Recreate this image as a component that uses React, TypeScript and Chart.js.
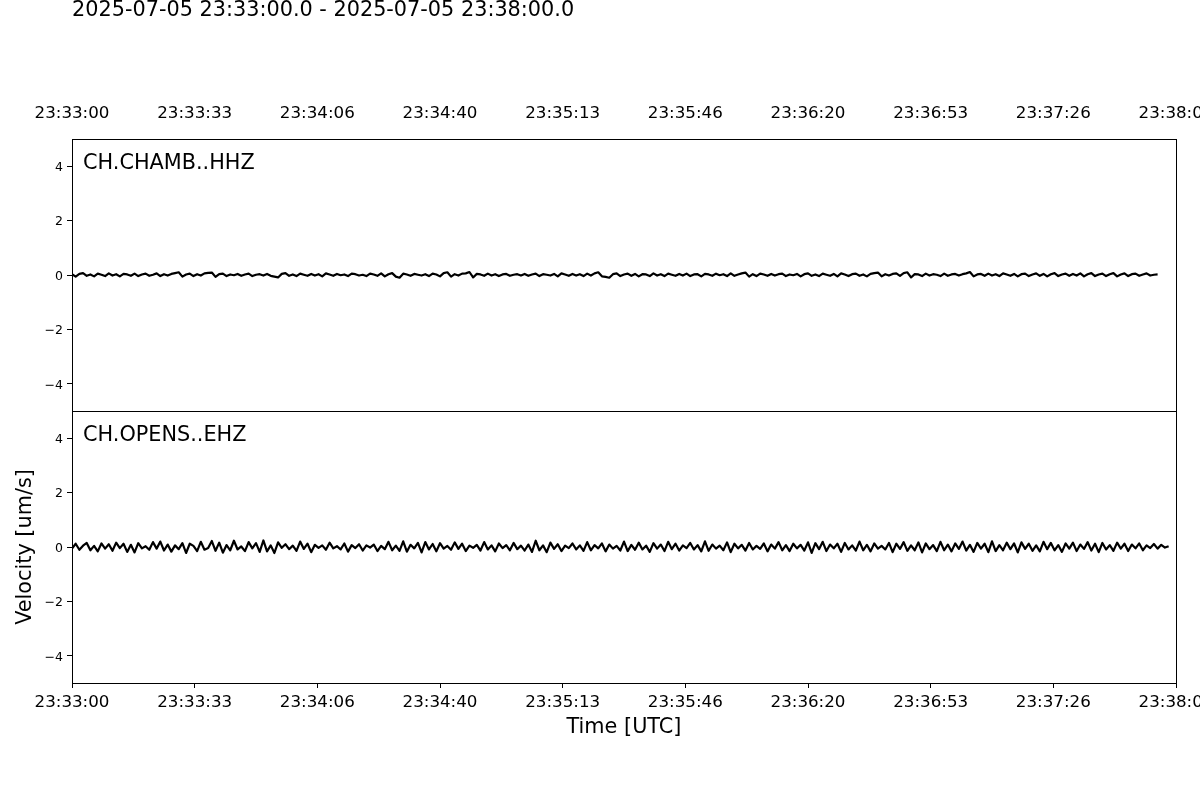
import React, { useEffect, useRef } from 'react';
import { Chart, registerables } from 'chart.js';

Chart.register(...registerables);

const TITLE = '2025-07-05 23:33:00.0 - 2025-07-05 23:38:00.0';
const TRACE_IDS = ['CH.CHAMB..HHZ', 'CH.OPENS..EHZ'];
const X_AXIS_TITLE = 'Time [UTC]';
const Y_AXIS_TITLE = 'Velocity [um/s]';

// seconds after 2025-07-05 23:33:00
const X_TICK_SECONDS = [0, 33.333, 66.667, 100, 133.333, 166.667, 200, 233.333, 266.667, 300];
const X_TICK_LABELS = [
  '23:33:00', '23:33:33', '23:34:06', '23:34:40', '23:35:13',
  '23:35:46', '23:36:20', '23:36:53', '23:37:26', '23:38:00',
];
const Y_TICKS = [-4, -2, 0, 2, 4];
const Y_MIN = -5;
const Y_MAX = 5;
const X_MIN = 0;
const X_MAX = 300;

const SAMPLE_INTERVAL_S = 1.0;

// CH.CHAMB..HHZ velocity samples [um/s]
const CHAMB_VALUES = [
  0.03, -0.06, 0.04, 0.07, -0.03, 0.02, -0.05, 0.05, 0.01, -0.04, 0.06, -0.02, 0.03, -0.05, 0.04, 0.02, -0.03, 0.05, -0.04, 0.02,
  0.05, -0.03, 0.01, 0.06, -0.04, 0.03, -0.02, 0.04, 0.07, 0.10, -0.06, 0.02, 0.05, -0.04, 0.03, -0.02, 0.06, 0.08, 0.09, -0.07,
  0.03, 0.05, -0.04, 0.02, -0.01, 0.04, -0.03, 0.02, 0.05, -0.04, 0.01, 0.03, -0.02, 0.04, -0.03, -0.06, -0.09, 0.04, 0.07, -0.03,
  0.02, -0.04, 0.05, 0.01, -0.03, 0.04, -0.02, 0.03, -0.05, 0.06, 0.02, -0.03, 0.04, -0.01, 0.02, -0.04, 0.05, 0.03, -0.02, 0.01,
  -0.04, 0.05, 0.02, -0.03, 0.06, -0.05, 0.03, 0.07, -0.06, -0.10, 0.05, 0.02, -0.03, 0.04, 0.01, -0.02, 0.03, -0.04, 0.05, 0.02,
  -0.05, 0.07, 0.10, -0.06, 0.03, -0.02, 0.05, 0.06, 0.11, -0.09, 0.04, 0.02, -0.03, 0.05, -0.02, 0.03, -0.04, 0.02, 0.04, -0.03,
  0.01, 0.03, -0.02, 0.04, -0.03, 0.02, 0.05, -0.04, 0.03, 0.01, -0.02, 0.04, -0.05, 0.06, 0.02, -0.03, 0.04, -0.02, 0.03, -0.04,
  0.05, -0.02, 0.06, 0.10, -0.05, -0.07, -0.10, 0.03, 0.06, -0.04, 0.02, 0.05, -0.03, 0.04, -0.05, 0.03, 0.02, -0.04, 0.06, -0.02,
  0.03, -0.04, 0.05, 0.01, -0.03, 0.04, -0.02, 0.05, -0.04, 0.02, 0.03, -0.05, 0.04, 0.02, -0.03, 0.05, -0.01, 0.03, -0.04, 0.06,
  -0.03, 0.02, 0.06, 0.09, -0.06, 0.03, -0.04, 0.05, 0.02, -0.03, 0.04, -0.02, 0.03, 0.05, -0.04, 0.02, -0.01, 0.04, -0.05, 0.03,
  0.06, -0.03, 0.02, -0.04, 0.05, 0.01, -0.03, 0.04, -0.05, 0.06, 0.02, -0.04, 0.03, 0.05, -0.03, 0.02, -0.05, 0.04, 0.07, 0.09,
  -0.05, 0.03, -0.02, 0.04, 0.06, -0.03, 0.07, 0.10, -0.09, 0.03, 0.02, -0.04, 0.05, -0.02, 0.03, 0.01, -0.04, 0.05, -0.03, 0.02,
  0.04, -0.02, 0.03, 0.06, 0.11, -0.05, 0.02, 0.04, -0.03, 0.05, -0.02, 0.03, -0.04, 0.06, 0.02, -0.03, 0.04, -0.05, 0.03, 0.05,
  -0.04, 0.02, 0.06, -0.03, 0.04, -0.05, 0.03, 0.07, -0.04, 0.02, 0.05, -0.03, 0.04, -0.02, 0.06, -0.05, 0.03, 0.07, -0.04, 0.02,
  0.05, -0.04, 0.03, 0.07, -0.05, 0.02, 0.06, -0.04, 0.03, 0.05, -0.03, 0.02, 0.06, -0.02, 0.01, 0.02,
];

// CH.OPENS..EHZ velocity samples [um/s]
const OPENS_VALUES = [
  -0.06, 0.12, -0.10, 0.05, 0.15, -0.12, 0.04, -0.16, 0.13, -0.06, 0.10, -0.14, 0.16, -0.04, 0.12, -0.18, 0.08, -0.20, 0.14, -0.05,
  0.03, -0.10, 0.18, -0.06, 0.20, -0.13, 0.09, -0.17, 0.06, -0.08, 0.14, -0.22, 0.12, 0.04, -0.15, 0.19, -0.10, -0.04, 0.22, -0.14,
  0.16, -0.21, 0.07, -0.12, 0.23, -0.09, 0.02, -0.15, 0.18, -0.05, 0.14, -0.18, 0.24, -0.16, 0.06, -0.22, 0.17, -0.03, 0.10, -0.08,
  0.05, -0.14, 0.20, -0.07, 0.12, -0.19, 0.08, -0.03, 0.06, -0.10, 0.16, -0.05, 0.03, -0.09, 0.13, -0.17, 0.07, -0.04, 0.10, -0.13,
  0.06, -0.02, 0.09, -0.15, 0.04, -0.08, 0.19, -0.12, 0.05, -0.14, 0.21, -0.17, 0.08, -0.05, 0.15, -0.20, 0.18, -0.09, 0.11, -0.16,
  0.14, -0.06, 0.04, -0.10, 0.17, -0.07, 0.12, -0.15, 0.05, -0.03, 0.08, -0.13, 0.18, -0.09, 0.06, -0.16, 0.13, -0.04, 0.07, -0.12,
  0.15, -0.08, 0.05, -0.13, 0.09, -0.18, 0.23, -0.12, 0.06, -0.19, 0.16, -0.07, 0.10, -0.15, 0.05, -0.04, 0.13, -0.09, 0.06, -0.14,
  0.18, -0.12, 0.07, -0.05, 0.13, -0.16, 0.09, -0.06, 0.04, -0.13, 0.20, -0.15, 0.08, -0.10, 0.16, -0.09, 0.05, -0.18, 0.14, -0.06,
  0.09, -0.15, 0.19, -0.08, 0.12, -0.13, 0.06, -0.04, 0.15, -0.09, 0.07, -0.16, 0.21, -0.14, 0.09, -0.06, 0.05, -0.12, 0.17, -0.19,
  0.12, -0.05, 0.08, -0.13, 0.15, -0.09, 0.04, -0.07, 0.13, -0.16, 0.09, -0.06, 0.18, -0.12, 0.07, -0.15, 0.12, -0.05, 0.08, -0.13,
  0.17, -0.22, 0.14, -0.08, 0.19, -0.15, 0.09, -0.05, 0.12, -0.18, 0.15, -0.09, 0.06, -0.13, 0.20, -0.12, 0.08, -0.16, 0.13, -0.06,
  0.04, -0.09, 0.15, -0.19, 0.12, -0.07, 0.18, -0.14, 0.06, -0.12, 0.17, -0.20, 0.13, -0.08, 0.07, -0.15, 0.19, -0.12, 0.09, -0.16,
  0.13, -0.07, 0.20, -0.13, 0.08, -0.18, 0.15, -0.06, 0.12, -0.19, 0.21, -0.15, 0.07, -0.12, 0.16, -0.08, 0.13, -0.20, 0.17, -0.07,
  0.12, -0.14, 0.06, -0.16, 0.19, -0.08, 0.15, -0.12, 0.07, -0.18, 0.13, -0.06, 0.16, -0.15, 0.09, -0.07, 0.18, -0.13, 0.12, -0.19,
  0.15, -0.09, 0.07, -0.14, 0.16, -0.06, 0.12, -0.15, 0.09, -0.05, 0.13, -0.12, 0.06, -0.04, 0.11, -0.06, 0.08, -0.02, 0.03,
];

const FONT = '"DejaVu Sans", sans-serif';

const toPoints = (values: number[]) =>
  values.map((v, i) => ({ x: i * SAMPLE_INTERVAL_S, y: v }));

const fmtY = (v: number) => (v < 0 ? '\u2212' + Math.abs(v) : String(v));

const decorPlugin = {
  id: 'panelDecor',
  afterDraw(chart: any) {
    const { ctx, chartArea } = chart;
    const panels = [chart.scales.yTop, chart.scales.yBottom];
    ctx.save();
    ctx.strokeStyle = '#000';
    ctx.lineWidth = 1;
    const left = Math.round(chartArea.left) + 0.5;
    const w = Math.round(chartArea.right) - Math.round(chartArea.left);
    panels.forEach((s: any, i: number) => {
      const top = Math.round(s.top) + 0.5;
      const h = Math.round(s.bottom) - Math.round(s.top);
      ctx.strokeRect(left, top, w, h);
      ctx.fillStyle = '#000';
      ctx.font = `20.8px ${FONT}`;
      ctx.textAlign = 'left';
      ctx.textBaseline = 'middle';
      ctx.fillText(TRACE_IDS[i], chartArea.left + 11, s.top + 25);
    });
    ctx.font = `20.8px ${FONT}`;
    ctx.textAlign = 'left';
    ctx.textBaseline = 'alphabetic';
    ctx.fillStyle = '#000';
    ctx.fillText(TITLE, chartArea.left, 16);
    ctx.restore();
  },
};

export default function App() {
  const ref = useRef<HTMLCanvasElement | null>(null);

  useEffect(() => {
    if (!ref.current) return;
    const xTicks = (s: any) => {
      s.ticks = X_TICK_SECONDS.map((v) => ({ value: v }));
    };
    const yTicks = (s: any) => {
      s.ticks = Y_TICKS.map((v) => ({ value: v }));
    };
    const yBase = (weight: number) => ({
      type: 'linear',
      position: 'left',
      stack: 'panels',
      stackWeight: 1,
      weight,
      min: Y_MIN,
      max: Y_MAX,
      afterBuildTicks: yTicks,
      afterFit: (s: any) => {
        s.width = 72;
        s.paddingTop = 0;
        s.paddingBottom = 0;
      },
      grid: { drawOnChartArea: false, drawTicks: true, tickLength: 5, color: '#000', lineWidth: 1 },
      border: { display: false },
      ticks: {
        color: '#000',
        padding: 4,
        labelOffset: 1.5,
        font: { family: FONT, size: 12.5 },
        callback: (v: any) => fmtY(Number(v)),
      },
    });

    const chart = new Chart(ref.current, {
      type: 'line',
      data: {
        datasets: [
          {
            label: TRACE_IDS[0],
            data: toPoints(CHAMB_VALUES),
            yAxisID: 'yTop',
            xAxisID: 'x',
            borderColor: '#000',
            borderWidth: 2.2,
            pointRadius: 0,
            tension: 0,
            borderJoinStyle: 'round',
          },
          {
            label: TRACE_IDS[1],
            data: toPoints(OPENS_VALUES),
            yAxisID: 'yBottom',
            xAxisID: 'x',
            borderColor: '#000',
            borderWidth: 2.2,
            pointRadius: 0,
            tension: 0,
            borderJoinStyle: 'round',
          },
        ],
      },
      options: {
        animation: false,
        responsive: false,
        devicePixelRatio: 1,
        parsing: false,
        normalized: true,
        layout: { padding: { left: 0, right: 24, top: 0, bottom: 0 } },
        plugins: {
          legend: { display: false },
          tooltip: { enabled: false },
          title: { display: false },
        },
        scales: {
          x: {
            type: 'linear',
            position: 'bottom',
            min: X_MIN,
            max: X_MAX,
            afterBuildTicks: xTicks,
            afterFit: (s: any) => {
              s.height = 117;
              s.paddingLeft = 0;
              s.paddingRight = 0;
            },
            grid: { drawOnChartArea: false, drawTicks: true, tickLength: 5, color: '#000', lineWidth: 1 },
            border: { display: false },
            ticks: {
              autoSkip: false,
              maxRotation: 0,
              minRotation: 0,
              padding: 5,
              color: '#000',
              font: { family: FONT, size: 16.7 },
              callback: (_v: any, i: number) => X_TICK_LABELS[i],
            },
            title: {
              display: true,
              text: X_AXIS_TITLE,
              color: '#000',
              font: { family: FONT, size: 20.8 },
              padding: { top: 0, bottom: 60 },
            },
          },
          x2: {
            type: 'linear',
            position: 'top',
            display: true,
            min: X_MIN,
            max: X_MAX,
            afterBuildTicks: xTicks,
            afterFit: (s: any) => {
              s.height = 139;
              s.paddingLeft = 0;
              s.paddingRight = 0;
            },
            grid: { display: false, drawOnChartArea: false, drawTicks: false },
            border: { display: false },
            ticks: {
              autoSkip: false,
              maxRotation: 0,
              minRotation: 0,
              padding: 15,
              color: '#000',
              font: { family: FONT, size: 16.7 },
              callback: (_v: any, i: number) => X_TICK_LABELS[i],
            },
          },
          yTop: yBase(1),
          yBottom: {
            ...yBase(0),
            title: {
              display: true,
              text: Y_AXIS_TITLE,
              color: '#000',
              font: { family: FONT, size: 20.8 },
              padding: { top: 13, bottom: 0 },
            },
          },
        },
      } as any,
      plugins: [decorPlugin],
    } as any);

    return () => chart.destroy();
  }, []);

  return (
    <div style={{ position: 'absolute', left: 0, top: 0, width: 1200, height: 800, background: '#fff' }}>
      <canvas ref={ref} width={1200} height={800} style={{ width: 1200, height: 800, display: 'block' }} />
    </div>
  );
}
